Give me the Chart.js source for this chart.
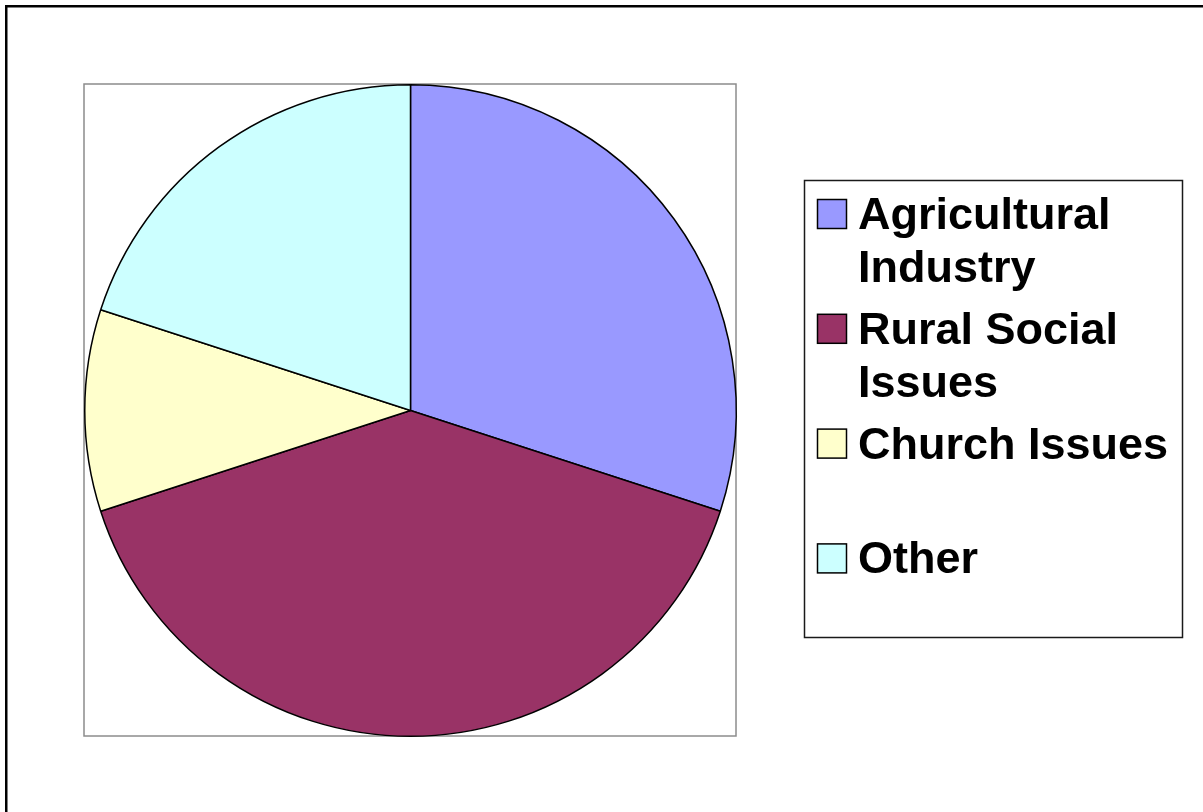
<!DOCTYPE html>
<html>
<head>
<meta charset="utf-8">
<script src="https://cdn.jsdelivr.net/npm/chart.js@4/dist/chart.umd.min.js"></script>
<style>
    html, body { margin: 0; padding: 0; background: #fff; }
    canvas { display: block; }
</style>
</head>
<body>
<canvas id="pieChart" width="1203" height="812"></canvas>
<script>
const categories = ['Agricultural Industry', 'Rural Social Issues', 'Church Issues', 'Other'];
const shares = [30, 40, 10, 20];
const sliceColors = ['#9999FF', '#993366', '#FFFFCC', '#CCFFFF'];

// word wrap for the legend text
function wrapText(ctx, text, maxWidth) {
    const words = text.split(' ');
    const lines = [];
    let line = '';
    words.forEach(function (w) {
        const test = line ? line + ' ' + w : w;
        if (line && ctx.measureText(test).width > maxWidth) {
            lines.push(line);
            line = w;
        } else {
            line = test;
        }
    });
    if (line) lines.push(line);
    return lines;
}

const framePlugin = {
    id: 'frames',
    beforeDraw: function (chart) {
        const ctx = chart.ctx;
        ctx.save();
        ctx.fillStyle = '#fff';
        ctx.fillRect(0, 0, chart.width, chart.height);
        // outer chart border
        ctx.strokeStyle = '#000';
        ctx.lineWidth = 2.5;
        ctx.beginPath();
        ctx.moveTo(6.25, chart.height + 5);
        ctx.lineTo(6.25, 6.25);
        ctx.lineTo(chart.width + 5, 6.25);
        ctx.stroke();
        // plot area box
        ctx.strokeStyle = '#8c8c8c';
        ctx.lineWidth = 1.5;
        ctx.strokeRect(84, 84, 652, 652);
        ctx.restore();
    },
    afterDraw: function (chart) {
        const ctx = chart.ctx;
        const ds = chart.data.datasets[0];
        ctx.save();
        // legend box
        ctx.strokeStyle = '#1a1a1a';
        ctx.lineWidth = 1.5;
        ctx.strokeRect(804.5, 180.5, 378, 457);
        ctx.font = 'bold 45px "Liberation Sans", Arial, sans-serif';
        ctx.textBaseline = 'alphabetic';
        chart.data.labels.forEach(function (label, i) {
            const cy = 214 + i * 114.8;
            ctx.fillStyle = ds.backgroundColor[i];
            ctx.fillRect(817.5, cy - 14.5, 29, 29);
            ctx.strokeStyle = '#000';
            ctx.lineWidth = 1.5;
            ctx.strokeRect(817.5, cy - 14.5, 29, 29);
            ctx.fillStyle = '#000';
            wrapText(ctx, label, 318).forEach(function (ln, j) {
                ctx.fillText(ln, 858, cy + 15 + j * 53);
            });
        });
        ctx.restore();
    }
};

new Chart(document.getElementById('pieChart').getContext('2d'), {
    type: 'pie',
    data: {
        labels: categories,
        datasets: [{
            data: shares,
            backgroundColor: sliceColors,
            borderColor: '#000',
            borderWidth: 1.5
        }]
    },
    options: {
        responsive: false,
        animation: false,
        devicePixelRatio: 1,
        events: [],
        layout: {
            padding: { left: 84, top: 84, right: 466, bottom: 75 }
        },
        plugins: {
            legend: { display: false },
            tooltip: { enabled: false }
        }
    },
    plugins: [framePlugin]
});
</script>
</body>
</html>
